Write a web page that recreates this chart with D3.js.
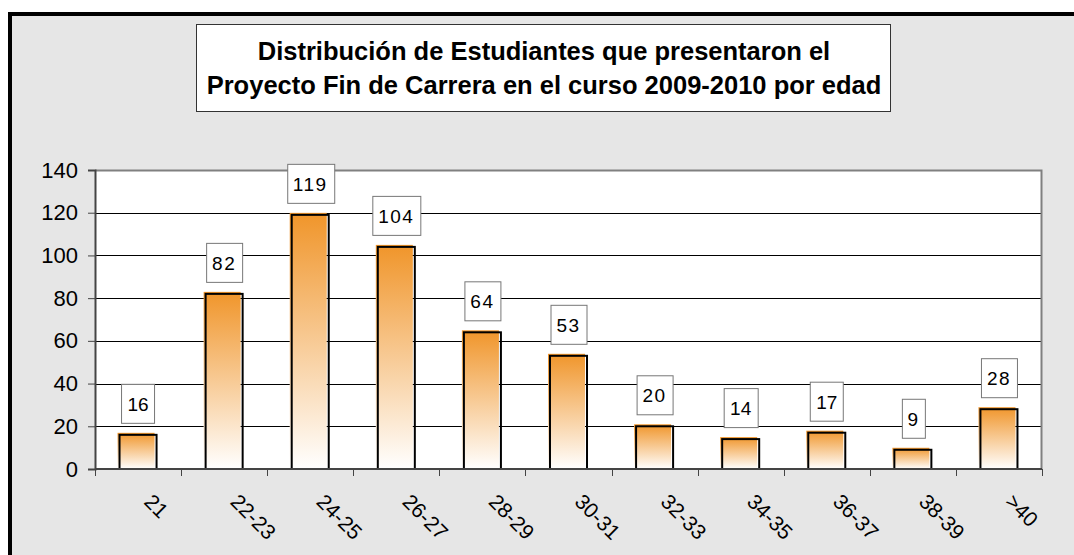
<!DOCTYPE html>
<html>
<head>
<meta charset="utf-8">
<script src="https://d3js.org/d3.v7.min.js"></script>
<style>
  body { margin: 0; background: #fff; }
  text { font-family: "Liberation Sans", Arial, sans-serif; }
</style>
</head>
<body>
<div id="vis"></div>
<script>
var categories = ["21", "22-23", "24-25", "26-27", "28-29", "30-31", "32-33", "34-35", "36-37", "38-39", ">40"];
var values = [16, 82, 119, 104, 64, 53, 20, 14, 17, 9, 28];
var yTicks = [0, 20, 40, 60, 80, 100, 120, 140];
var titleLines = ["Distribución de Estudiantes que presentaron el",
                  "Proyecto Fin de Carrera en el curso 2009-2010 por edad"];

var W = 1074, H = 555;
var margin = {top: 170, right: 32, bottom: 86, left: 95},
    width = W - margin.left - margin.right,
    height = H - margin.top - margin.bottom;

var svg = d3.select("#vis").append("svg")
  .attr("width", W)
  .attr("height", H);

// gradient for bars
var defs = svg.append("defs");
var grad = defs.append("linearGradient")
  .attr("id", "barGrad")
  .attr("x1", 0).attr("y1", 0).attr("x2", 0).attr("y2", 1);
grad.append("stop").attr("offset", "0%").attr("stop-color", "#f0952a");
grad.append("stop").attr("offset", "100%").attr("stop-color", "#ffffff");

////////// chart frame //////////
svg.append("rect")
  .attr("x", 10).attr("y", 14)
  .attr("width", W + 20).attr("height", H + 20)
  .attr("fill", "#e6e6e6")
  .attr("stroke", "#000")
  .attr("stroke-width", 4);

// title box
var title = svg.append("g");
title.append("rect")
  .attr("x", 196.5).attr("y", 24.5)
  .attr("width", 694).attr("height", 87)
  .attr("fill", "#fff")
  .attr("stroke", "#333")
  .attr("stroke-width", 1);
title.selectAll("text")
  .data(titleLines)
  .enter().append("text")
  .attr("x", 544)
  .attr("y", function(d, i) { return 60 + i * 34; })
  .attr("text-anchor", "middle")
  .attr("font-weight", "bold")
  .attr("font-size", 25.5)
  .attr("fill", "#000")
  .text(function(d) { return d; });

////////// plot //////////
var x = d3.scaleBand()
  .domain(categories)
  .range([0, width])
  .paddingInner(0.57)
  .paddingOuter(0.285);

var y = d3.scaleLinear()
  .domain([0, 140])
  .range([height, 0]);

var plot = svg.append("g")
  .attr("transform", "translate(" + margin.left + "," + margin.top + ")");

plot.append("rect")
  .attr("width", width).attr("height", height)
  .attr("fill", "#fff");

// gridlines
plot.append("g")
  .selectAll("line")
  .data(yTicks.filter(function(d) { return d > 0 && d < 140; }))
  .enter().append("line")
  .attr("x1", 0).attr("x2", width)
  .attr("y1", function(d) { return Math.round(y(d)) + 0.5; })
  .attr("y2", function(d) { return Math.round(y(d)) + 0.5; })
  .attr("stroke", "#000")
  .attr("stroke-width", 1);

// plot border (top, right)
plot.append("path")
  .attr("d", "M0,0.5H" + (width - 0.5) + "V" + height)
  .attr("fill", "none")
  .attr("stroke", "#808080")
  .attr("stroke-width", 2);

// bars: gradient fill shifted up-left, black outline
var bars = plot.append("g").selectAll("g")
  .data(values)
  .enter().append("g");

bars.append("rect")
  .attr("x", function(d, i) { return x(categories[i]) - 2; })
  .attr("y", function(d) { return y(d) - 2; })
  .attr("width", x.bandwidth())
  .attr("height", function(d) { return height - y(d) + 2; })
  .attr("fill", "url(#barGrad)");

bars.append("rect")
  .attr("x", function(d, i) { return x(categories[i]); })
  .attr("y", function(d) { return y(d); })
  .attr("width", x.bandwidth())
  .attr("height", function(d) { return height - y(d); })
  .attr("fill", "none")
  .attr("stroke", "#000")
  .attr("stroke-width", 2);

// value labels
var labels = plot.append("g").selectAll("g")
  .data(values)
  .enter().append("g")
  .attr("transform", function(d, i) {
    return "translate(" + (x(categories[i]) + x.bandwidth() / 2) + "," + (y(d) - 31) + ")";
  });

labels.append("text")
  .attr("text-anchor", "middle")
  .attr("dy", "0.36em")
  .attr("font-size", 19)
  .attr("letter-spacing", function(d) { return d >= 20 ? 1.5 : 0; })
  .attr("fill", "#000")
  .text(function(d) { return d; });

labels.each(function() {
  var g = d3.select(this);
  var bb = g.select("text").node().getBBox();
  g.insert("rect", "text")
    .attr("x", Math.round(bb.x - 6) + 0.5)
    .attr("y", -19.5)
    .attr("width", Math.round(bb.width + 12))
    .attr("height", 39)
    .attr("fill", "#fff")
    .attr("stroke", "#777")
    .attr("stroke-width", 1);
});

// y axis
var yAxis = plot.append("g")
  .call(d3.axisLeft(y).tickValues(yTicks).tickSize(7).tickPadding(10));
yAxis.select(".domain").attr("stroke", "#444").attr("stroke-width", 2);
yAxis.selectAll(".tick line").attr("stroke", "#444");
yAxis.selectAll("text")
  .attr("font-size", 22)
  .attr("fill", "#000")
  .style("font-family", "'Liberation Sans', Arial, sans-serif");

// x axis: ticks at category boundaries
var step = x.step();
var xAxis = plot.append("g")
  .attr("transform", "translate(0," + height + ")");
xAxis.append("line")
  .attr("x1", 0).attr("x2", width)
  .attr("stroke", "#444").attr("stroke-width", 2);
xAxis.selectAll(".xt")
  .data(d3.range(categories.length + 1))
  .enter().append("line")
  .attr("class", "xt")
  .attr("x1", function(i) { return Math.round(i * step) + 0.5; })
  .attr("x2", function(i) { return Math.round(i * step) + 0.5; })
  .attr("y1", 0).attr("y2", 7)
  .attr("stroke", "#444");

xAxis.selectAll(".xl")
  .data(categories)
  .enter().append("text")
  .attr("class", "xl")
  .attr("transform", function(d) {
    return "translate(" + (x(d) + x.bandwidth() / 2 + 5) + ",34) rotate(45)";
  })
  .attr("font-size", 21)
  .attr("fill", "#000")
  .text(function(d) { return d; });
</script>
</body>
</html>
